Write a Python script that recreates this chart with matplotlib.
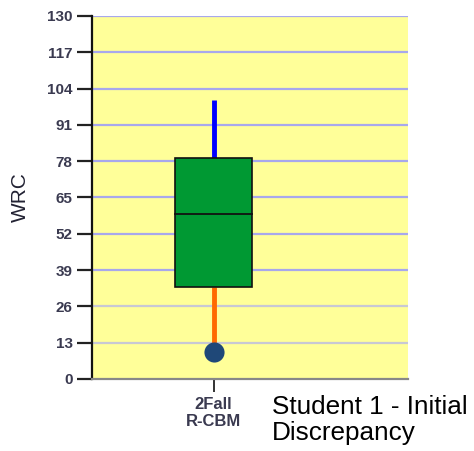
import matplotlib
matplotlib.use("Agg")
import matplotlib.pyplot as plt
from matplotlib.patches import Rectangle

categories = ["2Fall\nR-CBM"]
q1 = [33]
median = [59]
q3 = [79]
whisker_hi = [100]
whisker_lo = [10]
outlier = [9.5]
yticks = [0, 13, 26, 39, 52, 65, 78, 91, 104, 117, 130]

fig = plt.figure(figsize=(4.74, 4.51), dpi=100)
ax = fig.add_axes([92/474, 1-379/451, (408-92)/474, (379-16)/451])
ax.set_facecolor("#FFFF99")
ax.set_xlim(0, 2.6)
ax.set_ylim(0, 130)

grid_colors = {13: "#C8C8D4", 26: "#C8C8D4"}
for t in yticks[1:]:
    ax.axhline(t, color=grid_colors.get(t, "#A8A8EC"), lw=1.6, zorder=1)

w = 0.63
for i, cat in enumerate(categories):
    x = i + 1
    ax.plot([x, x], [q3[i], whisker_hi[i]], color="#0000FF", lw=3.5, zorder=2, solid_capstyle="butt")
    ax.plot([x, x], [whisker_lo[i], q1[i]], color="#FF6A00", lw=3.5, zorder=2, solid_capstyle="butt")
    ax.add_patch(Rectangle((x - w/2, q1[i]), w, q3[i]-q1[i], facecolor="#009933",
                           edgecolor="#111111", lw=1.2, zorder=3))
    ax.plot([x - w/2, x + w/2], [median[i], median[i]], color="#111111", lw=1.3, zorder=4)
    ax.plot([x], [outlier[i]], marker="o", markersize=14.5, color="#1F4878", zorder=5, markeredgewidth=0)

ax.set_yticks(yticks)
ax.set_yticklabels([str(t) for t in yticks], fontsize=11, color="#3A3A50", fontweight="bold",
                   family="Liberation Sans")
ax.set_xticks([1])
ax.set_xticklabels(categories, fontsize=12, color="#3A3A50", fontweight="bold",
                   family="Liberation Sans", linespacing=1.2)
ax.tick_params(axis="y", length=11, width=1.6, color="#222222", pad=3)
ax.tick_params(axis="x", length=9, width=1.3, color="#222222", pad=4)
for s in ["top", "right"]:
    ax.spines[s].set_visible(False)
ax.spines["left"].set_color("#111111")
ax.spines["left"].set_linewidth(1.6)
ax.spines["bottom"].set_color("#888888")
ax.spines["bottom"].set_linewidth(1.6)
ax.set_ylabel("WRC", fontsize=15, color="#222233", family="Liberation Sans", labelpad=12)

fig.text(272/474, 1-395/451, "Student 1 - Initial\nDiscrepancy", fontsize=18.8, family="Liberation Sans",
         va="top", ha="left", color="black", linespacing=1.12)

fig.savefig("out.png", dpi=100)
